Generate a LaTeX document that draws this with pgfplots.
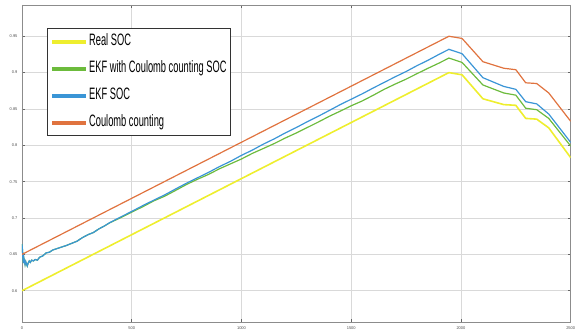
\documentclass[border=0pt]{standalone}
\usepackage{pgfplots}
\pgfplotsset{compat=1.18}
\usepackage{fontspec}
\setmainfont{Liberation Sans}
\definecolor{cyel}{HTML}{EEEE2E}
\definecolor{cgrn}{HTML}{6CBB3C}
\definecolor{cblu}{HTML}{3A95D6}
\definecolor{corg}{HTML}{E0733F}
\newcommand{\lt}[1]{\scalebox{0.62}[1.1]{\fontsize{15}{15}\selectfont #1}}
\begin{document}
\begin{tikzpicture}
\useasboundingbox (-22pt,-14pt) rectangle (555pt,322pt);
\begin{axis}[
  scale only axis,
  width=548.7pt, height=317pt,
  xmin=0, xmax=2500, ymin=0.557, ymax=0.993,
  xtick={0,500,1000,1500,2000,2500},
  ytick={0.6,0.65,0.7,0.75,0.8,0.85,0.9,0.95},
  yticklabels={0.6,0.65,0.7,0.75,0.8,0.85,0.9,0.95},
  xticklabels={0,500,1000,1500,2000,2500},
  tick label style={font=\fontsize{4}{4}\selectfont, text=black!70},
  /pgf/number format/assume math mode=true,
  grid=major,
  major grid style={draw=black!15, line width=0.8pt},
  axis line style={draw=black!45, line width=0.8pt},
  tick style={draw=black!60, line width=0.5pt},
  major tick length=3pt,
  tick align=inside,
  xticklabel style={yshift=-1pt},
  yticklabel style={xshift=-1pt},
  legend style={
    at={(rel axis cs:0.0456,0.927)}, anchor=north west,
    draw=black!80, line width=1.3pt, fill=white,
    inner xsep=3pt, inner ysep=5pt,
    row sep=11pt,
    nodes={inner sep=1pt, text height=11pt, text depth=3pt},
    cells={anchor=west},
  },
  legend image code/.code={\draw[line width=3.5pt,#1] (0pt,0pt) -- (34pt,0pt);},
]
\addplot[cyel, line width=1.6pt] coordinates {
(0,0.600)(1945,0.900)(2005,0.897)(2100,0.864)(2195,0.856)(2250,0.855)(2295,0.837)(2345,0.836)(2400,0.824)(2500,0.783)};
\addlegendentry{\lt{Real SOC}}
\addplot[cgrn, line width=1.2pt] coordinates {
(0,0.664)(2,0.657)(4,0.645)(6,0.638)(8,0.646)(11,0.641)(14,0.636)(17,0.640)(20,0.637)(24,0.634)(28,0.638)(33,0.641)(38,0.639)(44,0.642)(52,0.641)(60,0.643)(70,0.642)(80,0.646)(95,0.648)(110,0.652)(125,0.653)(140,0.656)(160,0.658)(180,0.660)(200,0.662)(225,0.665)(250,0.668)(275,0.673)(300,0.677)(325,0.680)(350,0.685)(375,0.689)(400,0.6935)
(450,0.7005)(500,0.7081)(550,0.7155)(600,0.7235)(650,0.7300)(700,0.7380)(750,0.7462)(800,0.7534)(850,0.7600)(900,0.7678)(950,0.7745)(1000,0.7812)(1050,0.7890)(1100,0.7957)(1150,0.8025)(1200,0.8101)(1250,0.8170)(1300,0.8245)(1350,0.8320)(1400,0.8399)(1450,0.8470)(1500,0.8544)(1550,0.8610)(1600,0.8688)(1650,0.8770)(1700,0.8842)(1750,0.8910)(1800,0.8986)(1850,0.9060)(1900,0.9131)(1945,0.9200)
(2005,0.914)(2100,0.883)(2195,0.872)(2250,0.869)(2295,0.851)(2345,0.849)(2400,0.837)(2500,0.799)};
\addlegendentry{\lt{EKF with Coulomb counting SOC}}
\addplot[cblu, line width=1.2pt] coordinates {
(0,0.664)(2,0.657)(4,0.645)(6,0.638)(8,0.646)(11,0.641)(14,0.636)(17,0.640)(20,0.637)(24,0.634)(28,0.638)(33,0.641)(38,0.639)(44,0.642)(52,0.641)(60,0.643)(70,0.642)(80,0.646)(95,0.648)(110,0.652)(125,0.653)(140,0.656)(160,0.658)(180,0.660)(200,0.662)(225,0.665)(250,0.668)(275,0.673)(300,0.677)(325,0.680)(350,0.685)(375,0.689)(400,0.6937)
(450,0.7015)(500,0.7091)(550,0.7170)(600,0.7245)(650,0.7318)(700,0.7400)(750,0.7480)(800,0.7554)(850,0.7628)(900,0.7708)(950,0.7780)(1000,0.7862)(1050,0.7935)(1100,0.8017)(1150,0.8090)(1200,0.8171)(1250,0.8245)(1300,0.8325)(1350,0.8400)(1400,0.8479)(1450,0.8560)(1500,0.8634)(1550,0.8708)(1600,0.8788)(1650,0.8865)(1700,0.8942)(1750,0.9015)(1800,0.9096)(1850,0.9170)(1900,0.9251)(1945,0.9320)
(2005,0.926)(2100,0.893)(2195,0.881)(2250,0.877)(2295,0.860)(2345,0.857)(2400,0.843)(2500,0.804)};
\addlegendentry{\lt{EKF SOC}}
\addplot[corg, line width=1.2pt] coordinates {
(0,0.650)(1945,0.950)(2005,0.947)(2100,0.915)(2195,0.906)(2250,0.904)(2295,0.886)(2345,0.885)(2400,0.872)(2500,0.833)};
\addlegendentry{\lt{Coulomb counting}}
\end{axis}
\end{tikzpicture}
\end{document}
